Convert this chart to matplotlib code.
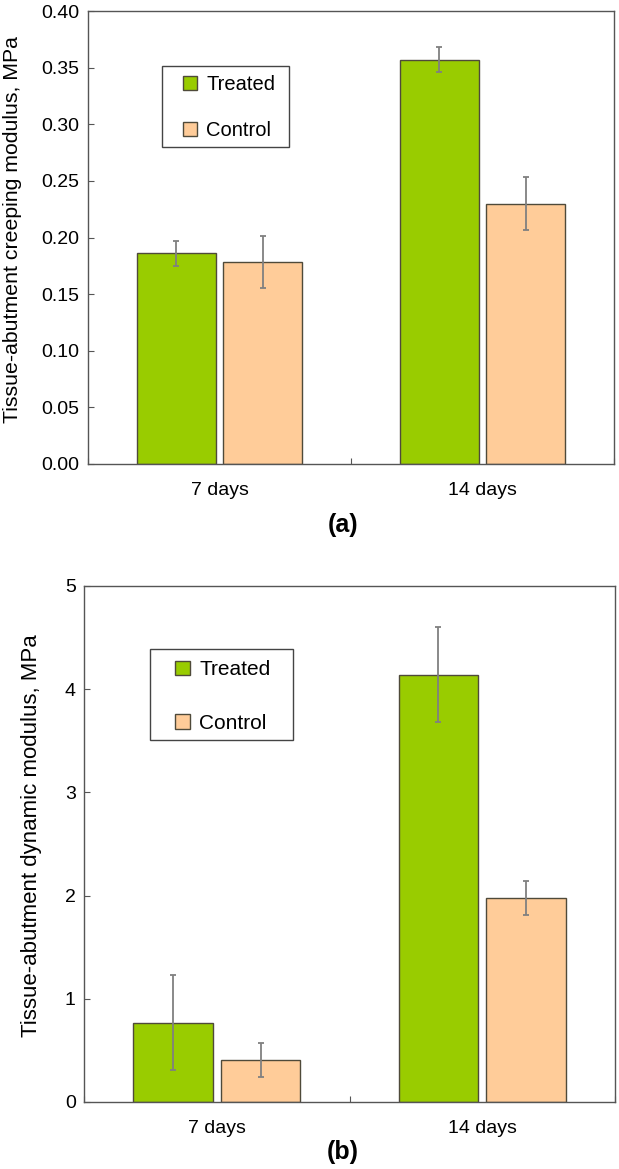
import matplotlib
matplotlib.use('Agg')
import matplotlib.pyplot as plt
from matplotlib.patches import Rectangle
import numpy as np

plt.rcParams['font.family'] = ['Liberation Sans', 'DejaVu Sans']

# data
groups = ['7 days', '14 days']
series = ['Treated', 'Control']

creep_treated = [0.186, 0.357]
creep_treated_err = [0.011, 0.011]
creep_control = [0.178, 0.230]
creep_control_err = [0.023, 0.023]

dyn_treated = [0.77, 4.14]
dyn_treated_err = [0.46, 0.46]
dyn_control = [0.41, 1.98]
dyn_control_err = [0.165, 0.165]

green = '#99cc00'
peach = '#ffcc99'
edge = '#4f4a3a'
errc = '#808080'

W, H = 619, 1169
fig = plt.figure(figsize=(W / 100, H / 100), dpi=100)


def panel(rect, treated, terr, control, cerr, ylim, yticks, yfmt,
          leg_anchor, leg_fs, leg_space, leg_pad, frame_box):
    ax = fig.add_axes(rect)
    x = np.arange(len(groups)) + 0.5
    w = 0.30
    off = 0.165
    ek = dict(ecolor=errc, elinewidth=1.3, capsize=2.5, capthick=1.3)
    ax.bar(x - off, treated, w, yerr=terr, color=green, edgecolor=edge,
           linewidth=1.0, label=series[0], error_kw=ek)
    ax.bar(x + off, control, w, yerr=cerr, color=peach, edgecolor=edge,
           linewidth=1.0, label=series[1], error_kw=ek)
    ax.set_xlim(0, len(groups))
    ax.set_ylim(*ylim)
    ax.set_yticks(yticks)
    ax.set_yticklabels([yfmt.format(v) for v in yticks])
    # group boundaries get the ticks, group names sit between them
    ax.set_xticks(np.arange(len(groups) + 1))
    ax.set_xticklabels([])
    ax.set_xticks(x, minor=True)
    ax.set_xticklabels(groups, minor=True, fontsize=14)
    ax.tick_params(axis='x', which='major', direction='in', length=4, color='#555555')
    ax.tick_params(axis='x', which='minor', length=0, pad=13)
    ax.tick_params(axis='y', direction='in', length=4, color='#555555',
                   labelsize=14, pad=6)
    for s in ax.spines.values():
        s.set_color('#555555')
        s.set_linewidth(1.0)
    ax.legend(loc='upper left', bbox_to_anchor=leg_anchor, fontsize=leg_fs,
              frameon=False, handlelength=0.7, handleheight=0.7,
              handletextpad=0.45, labelspacing=leg_space, borderpad=leg_pad,
              borderaxespad=0)
    # legend box is wider than its content, so draw it separately
    x0, y0, x1, y1 = frame_box
    ax.add_patch(Rectangle((x0, y0), x1 - x0, y1 - y0, transform=ax.transAxes,
                           fill=True, facecolor='white', edgecolor='#444444',
                           linewidth=1.0, zorder=4))
    return ax


panel([88 / W, 1 - 464 / H, 526 / W, 453 / H],
      creep_treated, creep_treated_err, creep_control, creep_control_err,
      (0, 0.40), np.arange(0, 0.41, 0.05), '{:.2f}', (0.164, 0.879), 14.5,
      1.35, 0.45, (0.141, 0.700, 0.382, 0.879))

panel([84 / W, 1 - 1102 / H, 531 / W, 516 / H],
      dyn_treated, dyn_treated_err, dyn_control, dyn_control_err,
      (0, 5), np.arange(0, 6, 1), '{:.0f}', (0.150, 0.878), 15,
      1.65, 0.55, (0.124, 0.702, 0.394, 0.878))

fig.text(13 / W, 1 - 230 / H, 'Tissue-abutment creeping modulus, MPa',
         rotation=90, ha='center', va='center', fontsize=15.3)
fig.text(32 / W, 1 - 836 / H, 'Tissue-abutment dynamic modulus, MPa',
         rotation=90, ha='center', va='center', fontsize=16)
fig.text(343 / W, 1 - 525 / H, '(a)', ha='center', va='center',
         fontsize=18, fontweight='bold')
fig.text(343 / W, 1 - 1152 / H, '(b)', ha='center', va='center',
         fontsize=18, fontweight='bold')

fig.savefig('out.png', dpi=100)
